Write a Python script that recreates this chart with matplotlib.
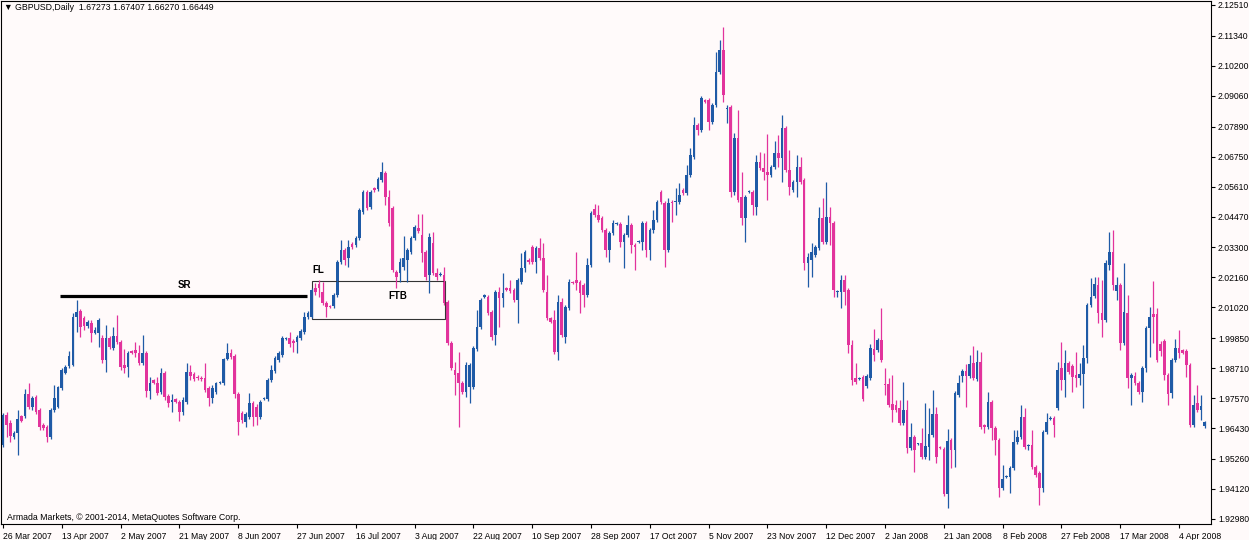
import matplotlib
matplotlib.use("Agg")
import matplotlib.pyplot as plt
from matplotlib.patches import Rectangle

plt.rcParams['font.family'] = ['Liberation Sans', 'DejaVu Sans']

# GBPUSD daily candles, 26 Mar 2007 .. mid Apr 2008
opens = [
    1.9579, 1.9693, 1.9663, 1.9609, 1.9625, 1.9689, 1.9689, 1.9773, 1.9723, 1.9761,
    1.9712, 1.9655, 1.9647, 1.9609, 1.9712, 1.9723, 1.9796, 1.9853, 1.9879, 1.9883,
    2.0065, 2.0088, 2.0062, 2.0031, 2.0043, 2.0005, 2.0005, 1.9986, 1.9902, 1.9986,
    1.9948, 1.9993, 1.9970, 1.9883, 1.9875, 1.9936, 1.9940, 1.9929, 1.9891, 1.9929,
    1.9784, 1.9826, 1.9815, 1.9780, 1.9853, 1.9765, 1.9742, 1.9754, 1.9742, 1.9704,
    1.9742, 1.9856, 1.9849, 1.9837, 1.9834, 1.9834, 1.9796, 1.9758, 1.9780, 1.9815,
    1.9815, 1.9906, 1.9929, 1.9917, 1.9773, 1.9701, 1.9666, 1.9685, 1.9739, 1.9723,
    1.9685, 1.9754, 1.9754, 1.9826, 1.9860, 1.9902, 1.9921, 1.9982, 1.9986, 1.9974,
    1.9970, 1.9986, 2.0008, 2.0065, 2.0065, 2.0176, 2.0191, 2.0160, 2.0119, 2.0107,
    2.0107, 2.0149, 2.0274, 2.0320, 2.0290, 2.0343, 2.0339, 2.0366, 2.0464, 2.0540,
    2.0483, 2.0556, 2.0552, 2.0586, 2.0613, 2.0521, 2.0480, 2.0236, 2.0233, 2.0255,
    2.0282, 2.0312, 2.0366, 2.0404, 2.0377, 2.0312, 2.0225, 2.0347, 2.0233, 2.0225,
    2.0225, 2.0122, 1.9967, 1.9864, 1.9853, 1.9815, 1.9780, 1.9799, 1.9799, 1.9944,
    2.0027, 2.0141, 2.0141, 2.0084, 1.9997, 2.0160, 2.0137, 2.0176, 2.0176, 2.0168,
    2.0130, 2.0198, 2.0252, 2.0282, 2.0331, 2.0274, 2.0328, 2.0290, 2.0160, 2.0062,
    2.0054, 1.9932, 2.0122, 1.9989, 2.0100, 2.0198, 2.0206, 2.0198, 2.0187, 2.0149,
    2.0263, 2.0476, 2.0453, 2.0442, 2.0396, 2.0320, 2.0385, 2.0419, 2.0419, 2.0350,
    2.0377, 2.0415, 2.0339, 2.0350, 2.0350, 2.0423, 2.0320, 2.0396, 2.0434, 2.0540,
    2.0499, 2.0320, 2.0502, 2.0502, 2.0502, 2.0548, 2.0537, 2.0605, 2.0673, 2.0795,
    2.0776, 2.0890, 2.0890, 2.0806, 2.0871, 2.0996, 2.1080, 2.0856, 2.0863, 2.0540,
    2.0746, 2.0521, 2.0442, 2.0540, 2.0540, 2.0483, 2.0654, 2.0632, 2.0616, 2.0605,
    2.0635, 2.0689, 2.0670, 2.0784, 2.0624, 2.0548, 2.0578, 2.0635, 2.0586, 2.0271,
    2.0282, 2.0301, 2.0328, 2.0442, 2.0350, 2.0445, 2.0423, 2.0160, 2.0160, 2.0206,
    2.0168, 1.9959, 1.9834, 1.9830, 1.9837, 1.9803, 1.9834, 1.9944, 1.9940, 1.9978,
    1.9811, 1.9811, 1.9735, 1.9731, 1.9720, 1.9663, 1.9712, 1.9568, 1.9609, 1.9583,
    1.9587, 1.9534, 1.9571, 1.9617, 1.9697, 1.9571, 1.9564, 1.9393, 1.9598, 1.9560,
    1.9769, 1.9841, 1.9860, 1.9841, 1.9891, 1.9830, 1.9894, 1.9655, 1.9647, 1.9742,
    1.9644, 1.9598, 1.9416, 1.9457, 1.9457, 1.9492, 1.9590, 1.9609, 1.9685, 1.9575,
    1.9579, 1.9495, 1.9473, 1.9416, 1.9628, 1.9678, 1.9682, 1.9720, 1.9872, 1.9826,
    1.9891, 1.9879, 1.9845, 1.9834, 1.9849, 1.9910, 2.0111, 2.0145, 2.0187, 2.0081,
    2.0054, 2.0263, 2.0312, 2.0164, 2.0187, 1.9967, 2.0081, 1.9834, 1.9841, 1.9815,
    1.9780, 1.9872, 2.0024, 2.0077, 2.0077, 1.9963, 1.9974, 1.9845, 1.9777, 1.9902,
    1.9948, 1.9940, 1.9936, 1.9883, 1.9655, 1.9739, 1.9712, 1.9651,
]
highs = [
    1.9701, 1.9704, 1.9674, 1.9632, 1.9712, 1.9693, 1.9792, 1.9815, 1.9765, 1.9769,
    1.9720, 1.9663, 1.9655, 1.9720, 1.9807, 1.9803, 1.9872, 1.9883, 1.9936, 2.0081,
    2.0130, 2.0096, 2.0069, 2.0054, 2.0054, 2.0027, 2.0062, 1.9997, 2.0035, 1.9993,
    2.0027, 2.0073, 1.9978, 1.9944, 1.9936, 1.9940, 1.9970, 1.9959, 1.9997, 1.9936,
    1.9837, 1.9830, 1.9837, 1.9872, 1.9860, 1.9773, 1.9773, 1.9758, 1.9750, 1.9761,
    1.9891, 1.9883, 1.9856, 1.9845, 1.9841, 1.9891, 1.9803, 1.9807, 1.9818, 1.9822,
    1.9910, 1.9967, 1.9944, 1.9925, 1.9780, 1.9708, 1.9704, 1.9777, 1.9746, 1.9735,
    1.9750, 1.9761, 1.9834, 1.9883, 1.9917, 1.9936, 1.9993, 1.9989, 2.0008, 1.9982,
    1.9997, 2.0020, 2.0084, 2.0088, 2.0176, 2.0195, 2.0206, 2.0198, 2.0126, 2.0111,
    2.0157, 2.0282, 2.0358, 2.0328, 2.0358, 2.0350, 2.0373, 2.0480, 2.0548, 2.0548,
    2.0548, 2.0559, 2.0597, 2.0654, 2.0620, 2.0548, 2.0487, 2.0244, 2.0290, 2.0373,
    2.0328, 2.0373, 2.0415, 2.0457, 2.0457, 2.0320, 2.0385, 2.0388, 2.0252, 2.0236,
    2.0255, 2.0130, 1.9974, 1.9894, 1.9932, 1.9822, 1.9894, 1.9891, 1.9955, 2.0092,
    2.0137, 2.0153, 2.0149, 2.0092, 2.0168, 2.0179, 2.0233, 2.0179, 2.0206, 2.0176,
    2.0214, 2.0309, 2.0320, 2.0290, 2.0339, 2.0335, 2.0366, 2.0347, 2.0225, 2.0065,
    2.0092, 2.0149, 2.0137, 2.0111, 2.0210, 2.0202, 2.0312, 2.0206, 2.0195, 2.0290,
    2.0468, 2.0495, 2.0491, 2.0449, 2.0404, 2.0392, 2.0434, 2.0426, 2.0426, 2.0385,
    2.0453, 2.0423, 2.0347, 2.0358, 2.0430, 2.0430, 2.0404, 2.0472, 2.0510, 2.0548,
    2.0506, 2.0518, 2.0510, 2.0556, 2.0575, 2.0556, 2.0643, 2.0708, 2.0825, 2.0803,
    2.0905, 2.0894, 2.0898, 2.0879, 2.1072, 2.1118, 2.1167, 2.0871, 2.0871, 2.0765,
    2.0852, 2.0616, 2.0529, 2.0548, 2.0548, 2.0681, 2.0692, 2.0689, 2.0761, 2.0643,
    2.0734, 2.0757, 2.0833, 2.0791, 2.0700, 2.0586, 2.0681, 2.0673, 2.0594, 2.0309,
    2.0347, 2.0339, 2.0483, 2.0518, 2.0578, 2.0483, 2.0430, 2.0168, 2.0225, 2.0225,
    2.0176, 1.9978, 1.9891, 1.9837, 1.9845, 1.9849, 1.9963, 2.0020, 1.9986, 2.0100,
    1.9872, 1.9834, 1.9845, 1.9750, 1.9750, 1.9818, 1.9750, 1.9663, 1.9617, 1.9587,
    1.9644, 1.9739, 1.9720, 1.9788, 1.9723, 1.9575, 1.9571, 1.9640, 1.9606, 1.9784,
    1.9845, 1.9868, 1.9887, 1.9921, 1.9955, 1.9940, 1.9932, 1.9659, 1.9780, 1.9750,
    1.9651, 1.9606, 1.9503, 1.9465, 1.9499, 1.9636, 1.9636, 1.9731, 1.9720, 1.9583,
    1.9636, 1.9503, 1.9480, 1.9636, 1.9701, 1.9689, 1.9689, 1.9894, 1.9970, 1.9940,
    1.9898, 1.9887, 1.9932, 1.9891, 1.9959, 2.0119, 2.0214, 2.0217, 2.0217, 2.0206,
    2.0282, 2.0388, 2.0396, 2.0217, 2.0195, 2.0271, 2.0149, 1.9853, 1.9856, 1.9822,
    1.9879, 2.0031, 2.0103, 2.0202, 2.0100, 1.9974, 1.9982, 1.9853, 1.9910, 1.9982,
    2.0016, 1.9944, 1.9944, 1.9891, 1.9769, 1.9807, 1.9769, 1.9670,
]
lows = [
    1.9571, 1.9609, 1.9590, 1.9602, 1.9541, 1.9666, 1.9682, 1.9716, 1.9712, 1.9697,
    1.9636, 1.9636, 1.9590, 1.9602, 1.9704, 1.9720, 1.9788, 1.9849, 1.9872, 1.9879,
    2.0008, 1.9989, 2.0016, 2.0024, 1.9970, 2.0001, 1.9951, 1.9891, 1.9856, 1.9944,
    1.9940, 1.9963, 1.9864, 1.9853, 1.9837, 1.9925, 1.9913, 1.9883, 1.9883, 1.9761,
    1.9754, 1.9811, 1.9769, 1.9773, 1.9750, 1.9723, 1.9704, 1.9739, 1.9670, 1.9693,
    1.9735, 1.9826, 1.9822, 1.9826, 1.9822, 1.9780, 1.9727, 1.9739, 1.9773, 1.9811,
    1.9807, 1.9902, 1.9906, 1.9758, 1.9617, 1.9663, 1.9647, 1.9678, 1.9651, 1.9655,
    1.9678, 1.9750, 1.9746, 1.9818, 1.9853, 1.9894, 1.9913, 1.9978, 1.9951, 1.9932,
    1.9929, 1.9978, 2.0001, 2.0058, 2.0062, 2.0149, 2.0141, 2.0111, 2.0065, 2.0100,
    2.0100, 2.0141, 2.0267, 2.0263, 2.0255, 2.0324, 2.0331, 2.0358, 2.0457, 2.0472,
    2.0476, 2.0540, 2.0544, 2.0578, 2.0491, 2.0411, 2.0236, 2.0176, 2.0198, 2.0244,
    2.0198, 2.0305, 2.0358, 2.0385, 2.0274, 2.0206, 2.0157, 2.0225, 2.0206, 2.0221,
    2.0111, 1.9959, 1.9864, 1.9769, 1.9647, 1.9773, 1.9761, 1.9739, 1.9792, 1.9936,
    2.0020, 2.0137, 2.0073, 1.9978, 1.9959, 2.0027, 2.0103, 2.0164, 2.0157, 2.0122,
    2.0043, 2.0191, 2.0236, 2.0267, 2.0267, 2.0233, 2.0282, 2.0160, 2.0054, 2.0043,
    1.9925, 1.9902, 1.9989, 1.9967, 2.0092, 2.0191, 2.0168, 2.0081, 2.0103, 2.0141,
    2.0255, 2.0446, 2.0426, 2.0388, 2.0293, 2.0274, 2.0377, 2.0415, 2.0331, 2.0252,
    2.0369, 2.0309, 2.0244, 2.0347, 2.0320, 2.0293, 2.0282, 2.0385, 2.0426, 2.0495,
    2.0255, 2.0312, 2.0426, 2.0453, 2.0495, 2.0529, 2.0529, 2.0597, 2.0666, 2.0757,
    2.0768, 2.0879, 2.0776, 2.0799, 2.0863, 2.0989, 2.0882, 2.0803, 2.0521, 2.0529,
    2.0502, 2.0415, 2.0350, 2.0537, 2.0453, 2.0453, 2.0624, 2.0586, 2.0510, 2.0597,
    2.0628, 2.0635, 2.0578, 2.0616, 2.0529, 2.0540, 2.0521, 2.0571, 2.0244, 2.0179,
    2.0217, 2.0293, 2.0320, 2.0343, 2.0343, 2.0339, 2.0141, 2.0141, 2.0100, 2.0111,
    1.9929, 1.9807, 1.9811, 1.9826, 1.9746, 1.9796, 1.9826, 1.9898, 1.9932, 1.9894,
    1.9769, 1.9723, 1.9666, 1.9704, 1.9655, 1.9655, 1.9549, 1.9560, 1.9476, 1.9579,
    1.9526, 1.9526, 1.9522, 1.9609, 1.9511, 1.9564, 1.9385, 1.9340, 1.9492, 1.9496,
    1.9761, 1.9818, 1.9723, 1.9834, 1.9826, 1.9822, 1.9640, 1.9625, 1.9640, 1.9598,
    1.9541, 1.9381, 1.9408, 1.9453, 1.9397, 1.9484, 1.9583, 1.9602, 1.9564, 1.9560,
    1.9488, 1.9457, 1.9351, 1.9400, 1.9621, 1.9674, 1.9609, 1.9712, 1.9788, 1.9761,
    1.9849, 1.9780, 1.9799, 1.9807, 1.9720, 1.9891, 2.0103, 2.0137, 2.0043, 1.9989,
    2.0046, 2.0244, 2.0168, 2.0130, 1.9940, 1.9959, 1.9796, 1.9731, 1.9807, 1.9773,
    1.9742, 1.9856, 1.9913, 1.9967, 1.9894, 1.9917, 1.9826, 1.9731, 1.9758, 1.9894,
    1.9910, 1.9925, 1.9837, 1.9647, 1.9647, 1.9704, 1.9674, 1.9644,
]
closes = [
    1.9693, 1.9655, 1.9613, 1.9625, 1.9678, 1.9670, 1.9773, 1.9723, 1.9758, 1.9704,
    1.9647, 1.9644, 1.9609, 1.9712, 1.9758, 1.9799, 1.9864, 1.9875, 1.9917, 2.0065,
    2.0084, 2.0027, 2.0031, 2.0046, 2.0005, 2.0016, 2.0054, 1.9902, 1.9986, 1.9951,
    1.9993, 1.9970, 1.9875, 1.9872, 1.9929, 1.9929, 1.9929, 1.9891, 1.9929, 1.9784,
    1.9815, 1.9815, 1.9777, 1.9853, 1.9761, 1.9739, 1.9750, 1.9742, 1.9704, 1.9750,
    1.9856, 1.9841, 1.9830, 1.9834, 1.9830, 1.9788, 1.9758, 1.9796, 1.9815, 1.9818,
    1.9906, 1.9929, 1.9913, 1.9773, 1.9666, 1.9674, 1.9697, 1.9739, 1.9685, 1.9685,
    1.9742, 1.9758, 1.9826, 1.9864, 1.9910, 1.9929, 1.9986, 1.9986, 1.9963, 1.9967,
    1.9989, 2.0012, 2.0065, 2.0081, 2.0168, 2.0160, 2.0176, 2.0119, 2.0103, 2.0103,
    2.0149, 2.0274, 2.0320, 2.0282, 2.0331, 2.0331, 2.0366, 2.0472, 2.0540, 2.0480,
    2.0540, 2.0548, 2.0590, 2.0616, 2.0521, 2.0423, 2.0244, 2.0217, 2.0274, 2.0290,
    2.0320, 2.0366, 2.0407, 2.0392, 2.0309, 2.0217, 2.0369, 2.0233, 2.0217, 2.0229,
    2.0119, 1.9967, 1.9872, 1.9845, 1.9815, 1.9780, 1.9883, 1.9883, 1.9948, 2.0027,
    2.0130, 2.0149, 2.0081, 1.9989, 2.0160, 2.0137, 2.0157, 2.0168, 2.0164, 2.0130,
    2.0206, 2.0252, 2.0312, 2.0274, 2.0274, 2.0328, 2.0290, 2.0168, 2.0062, 2.0046,
    1.9932, 2.0122, 1.9997, 2.0103, 2.0198, 2.0195, 2.0195, 2.0157, 2.0149, 2.0263,
    2.0461, 2.0453, 2.0434, 2.0396, 2.0320, 2.0385, 2.0423, 2.0423, 2.0350, 2.0377,
    2.0415, 2.0339, 2.0331, 2.0354, 2.0423, 2.0320, 2.0396, 2.0434, 2.0502, 2.0502,
    2.0320, 2.0499, 2.0499, 2.0506, 2.0529, 2.0537, 2.0605, 2.0681, 2.0795, 2.0776,
    2.0898, 2.0882, 2.0806, 2.0871, 2.0996, 2.1080, 2.0909, 2.0860, 2.0540, 2.0746,
    2.0510, 2.0442, 2.0521, 2.0544, 2.0491, 2.0654, 2.0632, 2.0616, 2.0605, 2.0635,
    2.0689, 2.0670, 2.0784, 2.0624, 2.0559, 2.0578, 2.0635, 2.0578, 2.0271, 2.0293,
    2.0312, 2.0331, 2.0442, 2.0350, 2.0445, 2.0423, 2.0168, 2.0164, 2.0206, 2.0160,
    1.9959, 1.9826, 1.9818, 1.9834, 1.9754, 1.9841, 1.9948, 1.9921, 1.9978, 1.9902,
    1.9807, 1.9731, 1.9712, 1.9712, 1.9663, 1.9712, 1.9568, 1.9609, 1.9560, 1.9585,
    1.9534, 1.9575, 1.9621, 1.9697, 1.9534, 1.9568, 1.9393, 1.9594, 1.9560, 1.9777,
    1.9815, 1.9860, 1.9841, 1.9887, 1.9834, 1.9894, 1.9647, 1.9647, 1.9742, 1.9644,
    1.9598, 1.9416, 1.9450, 1.9461, 1.9492, 1.9590, 1.9609, 1.9685, 1.9571, 1.9579,
    1.9495, 1.9465, 1.9416, 1.9628, 1.9666, 1.9682, 1.9655, 1.9864, 1.9826, 1.9891,
    1.9856, 1.9837, 1.9834, 1.9849, 1.9910, 2.0111, 2.0141, 2.0191, 2.0081, 2.0054,
    2.0271, 2.0312, 2.0187, 2.0187, 1.9967, 2.0084, 1.9834, 1.9845, 1.9815, 1.9780,
    1.9872, 2.0024, 2.0065, 2.0065, 1.9902, 1.9936, 1.9845, 1.9773, 1.9902, 1.9948,
    1.9929, 1.9929, 1.9883, 1.9655, 1.9731, 1.9712, 1.9727, 1.9666,
]

price_ticks = [2.12510, 2.11340, 2.10200, 2.09060, 2.07890, 2.06750, 2.05610, 2.04470,
               2.03300, 2.02160, 2.01020, 1.99850, 1.98710, 1.97570, 1.96430, 1.95260,
               1.94120, 1.92980]
date_labels = ['26 Mar 2007', '13 Apr 2007', '2 May 2007', '21 May 2007', '8 Jun 2007',
               '27 Jun 2007', '16 Jul 2007', '3 Aug 2007', '22 Aug 2007', '10 Sep 2007',
               '28 Sep 2007', '17 Oct 2007', '5 Nov 2007', '23 Nov 2007', '12 Dec 2007',
               '2 Jan 2008', '21 Jan 2008', '8 Feb 2008', '27 Feb 2008', '17 Mar 2008',
               '4 Apr 2008']
bars_per_label = 16

# annotation levels (price) and bar spans
sr_level = 2.0145
sr_span = (15.5, 82.7)
box_span = (84.1, 120.3)
box_prices = (2.0058, 2.0202)

BG = '#fffafa'
BULL = '#1f5aa6'
BEAR = '#e2339c'

n = min(len(opens), len(highs), len(lows), len(closes))
xs = list(range(n))
colors = [BULL if closes[i] >= opens[i] else BEAR for i in xs]
bottoms = [min(opens[i], closes[i]) for i in xs]
heights = [max(abs(closes[i] - opens[i]), 0.00012) for i in xs]

fig = plt.figure(figsize=(12.49, 5.40), dpi=100, facecolor=BG)
ax = fig.add_axes([1 / 1249, 16 / 540, 1210 / 1249, 523 / 540], facecolor=BG)

ax.vlines(xs, lows[:n], highs[:n], colors=colors, linewidth=0.9)
ax.bar(xs, heights, bottom=bottoms, width=0.72, color=colors, linewidth=0)

ax.set_xlim(-0.55, 328.7)
ax.set_ylim(1.9279, 2.1266)

ax.yaxis.tick_right()
ax.set_yticks(price_ticks)
ax.set_yticklabels(['%.5f' % p for p in price_ticks])
ax.set_xticks([k * bars_per_label for k in range(len(date_labels))])
ax.set_xticklabels(date_labels, ha='left')
ax.tick_params(axis='both', length=3, width=0.8, color='black', labelsize=6.2, pad=2)
ax.tick_params(axis='x', pad=3)
for sp in ax.spines.values():
    sp.set_linewidth(0.8)
    sp.set_color('black')

# annotations
ax.hlines(sr_level, sr_span[0], sr_span[1], colors='black', linewidth=2.3)
ax.text(49.3, 2.0187, 'SR', fontsize=7, fontweight='bold', ha='center', va='center')
ax.add_patch(Rectangle((box_span[0], box_prices[0]), box_span[1] - box_span[0],
                       box_prices[1] - box_prices[0], fill=False, edgecolor='#333333',
                       linewidth=0.8))
ax.text(85.7, 2.0244, 'FL', fontsize=7, fontweight='bold', ha='center', va='center')
ax.text(107.5, 2.0145, 'FTB', fontsize=7, fontweight='bold', ha='center', va='center')

fig.text(4 / 1249, 1 - 8 / 540, '\u25bc GBPUSD,Daily  1.67273 1.67407 1.66270 1.66449',
         fontsize=6.3, va='center', ha='left')
fig.text(7 / 1249, 1 - 517 / 540, 'Armada Markets, \u00a9 2001-2014, MetaQuotes Software Corp.',
         fontsize=6.3, va='center', ha='left')

fig.savefig('out.png', dpi=100, facecolor=BG)
